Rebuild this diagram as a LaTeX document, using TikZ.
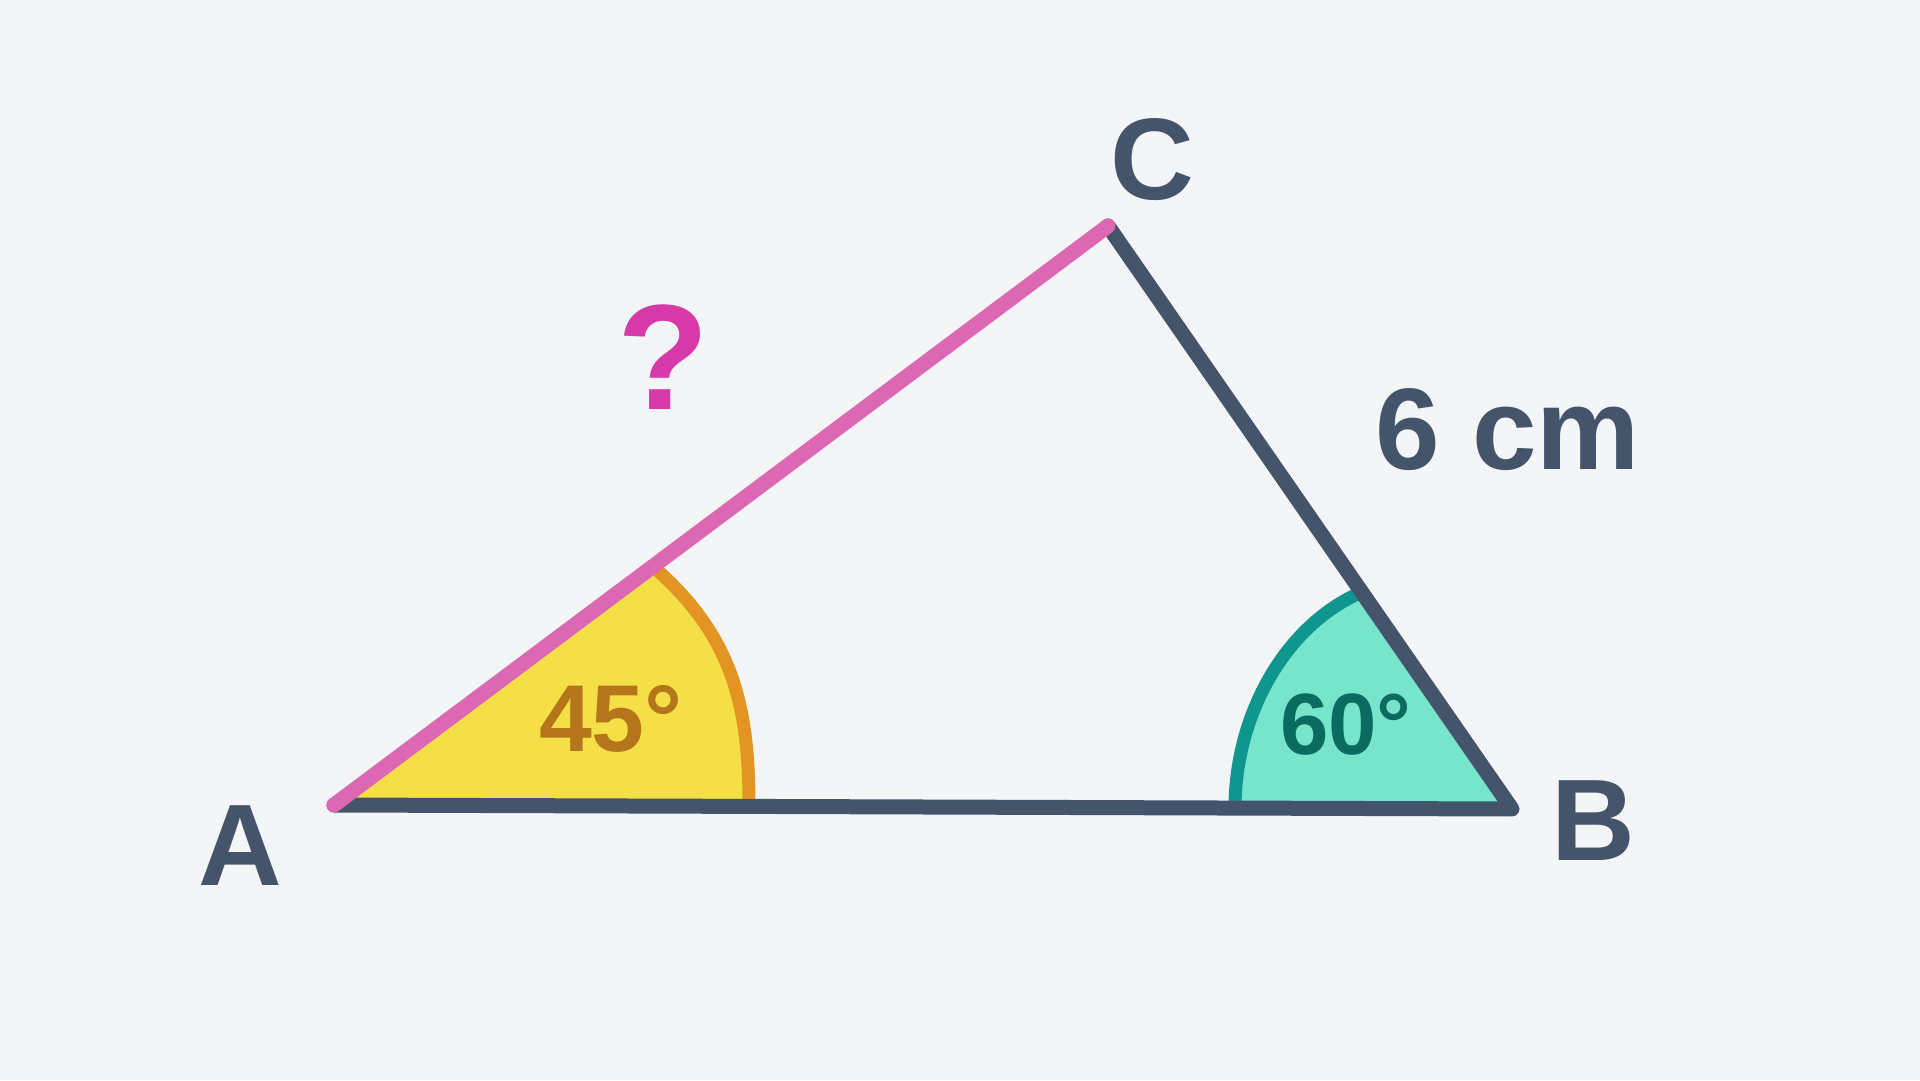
\documentclass[tikz,border=0pt]{standalone}
\usepackage{fontspec}
\setmainfont{Liberation Sans}
\definecolor{bgc}{HTML}{F3F5F7}
\definecolor{edgec}{HTML}{44546A}
\definecolor{pinkc}{HTML}{DC67B3}
\definecolor{qc}{HTML}{D63AA8}
\definecolor{yelc}{HTML}{F5DF47}
\definecolor{orac}{HTML}{E29522}
\definecolor{goldc}{HTML}{B5751A}
\definecolor{tealf}{HTML}{77E5CC}
\definecolor{teala}{HTML}{0E968F}
\definecolor{tealt}{HTML}{0B6B5E}
\begin{document}
\begin{tikzpicture}[x=1pt,y=1pt,
  lbl/.style={inner sep=0pt,anchor=base,font=\bfseries\fontsize{116}{116}\selectfont,text=edgec},
  anglbl/.style={inner sep=0pt,anchor=base,font=\bfseries\fontsize{95}{95}\selectfont},
  edge/.style={line width=15pt,draw=edgec,line cap=round,line join=round},
  hyp/.style={line width=15pt,draw=pinkc,line cap=round},
  arcline/.style={line width=13pt}]
\fill[bgc] (0,0) rectangle (1920,1080);
\useasboundingbox (0,0) rectangle (1920,1080);
\coordinate (A) at (334,275);
\coordinate (B) at (1512,271);
\coordinate (C) at (1108,854);
% angle sector at A
\coordinate (ya) at (749,275);
\coordinate (yb) at (657,510);
\fill[yelc] (A) -- (ya) .. controls (749,375) and (732,443) .. (yb) -- cycle;
\draw[orac,arcline] (ya) .. controls (749,375) and (732,443) .. (yb);
% angle sector at B
\coordinate (ta) at (1235,272);
\coordinate (tb) at (1362,488);
\fill[tealf] (B) -- (ta) .. controls (1235,365) and (1285,455) .. (tb) -- cycle;
\draw[teala,arcline] (ta) .. controls (1235,365) and (1285,455) .. (tb);
% edges
\draw[edge] (A) -- (B) -- (C);
\draw[hyp] (A) -- (C);
% labels
\node[lbl] (la) at (240,195) {A};
\node[lbl] (lb) at (1593,220) {B};
\node[lbl] (lc) at (1152,880) {C};
\node[lbl] (len) at (1508,610) {6 cm};
\node[lbl,text=qc,font=\bfseries\fontsize{150}{150}\selectfont] (q) at (663,670) {?};
\node[anglbl,text=goldc] (a45) at (611,328) {45°};
\node[anglbl,text=tealt,font=\bfseries\fontsize{87}{87}\selectfont] (a60) at (1346,325) {60°};
\end{tikzpicture}
\end{document}
